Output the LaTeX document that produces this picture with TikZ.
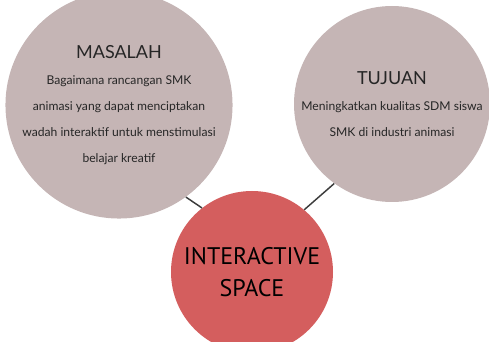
\documentclass[tikz,border=0pt]{standalone}
\usepackage{fontspec}
\setmainfont{Lato}
\newfontfamily\spacefont{PT Sans}
\usetikzlibrary{positioning}
\definecolor{bubblegray}{HTML}{C5B5B5}
\definecolor{spacered}{HTML}{D45E5E}
\definecolor{linkgray}{HTML}{3C3C3C}
\definecolor{textgray}{HTML}{262626}

\begin{document}
\begin{tikzpicture}[x=0.75pt, y=-0.75pt,
                    every node/.style={circle, align=center, text=textgray, inner sep=0pt},
                    bubble/.style={fill=bubblegray, minimum size=#1,
                        font=\fontsize{9.1}{19.5}\selectfont},
                    core/.style={fill=spacered, minimum size=121.5pt, text=black,
                        font=\spacefont\fontsize{18}{24.5}\selectfont},
                    link/.style={draw=linkgray, line width=1.1pt}]
    \useasboundingbox (0,0) rectangle (489,342);
    \node[bubble=150pt] (masalah) at (119,105)
        {{\fontsize{13.5}{19.5}\selectfont MASALAH}\\
         Bagaimana rancangan SMK\\
         animasi yang dapat menciptakan\\
         wadah interaktif untuk menstimulasi\\
         belajar kreatif};
    \node[bubble=147pt] (tujuan) at (392,104)
        {{\fontsize{13.5}{19.5}\selectfont TUJUAN}\\
         Meningkatkan kualitas SDM siswa\\
         SMK di industri animasi};
    \node[core] (space) at (252,272) {INTERACTIVE\\ SPACE};
    \draw[link] (masalah.-54) -- (space.128);
    \draw[link] (tujuan.234) -- (space.50);
\end{tikzpicture}
\end{document}
